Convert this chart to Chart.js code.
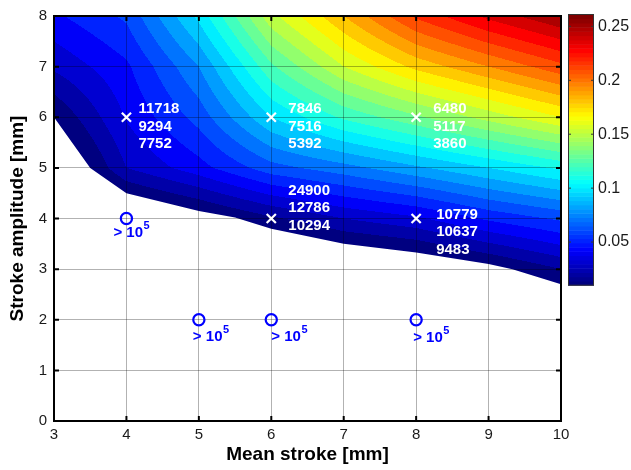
<!DOCTYPE html>
<html lang="en">
<head>
<meta charset="UTF-8">
<title>Stroke amplitude vs mean stroke</title>
<style>
  body { margin: 0; background: #fff; }
  canvas { display: block; }
</style>
</head>
<body>
<canvas id="chart" width="631" height="470"></canvas>
<script src="https://cdn.jsdelivr.net/npm/chart.js@4.4.7/dist/chart.umd.min.js"></script>
<script>
// contour field on a 1 mm grid
const gridX = [3, 4, 5, 6, 7, 8, 9, 10];
const gridY = [2, 3, 4, 5, 6, 7, 8];
const fieldY2 = [-0.12, -0.10, -0.08, -0.06, -0.05, -0.04, -0.03, -0.02];
const fieldY3 = [-0.08, -0.06, -0.04, -0.02, -0.01, -0.005, 0.006, 0.02];
const fieldY4 = [-0.03, -0.008, 0.004, 0.018, 0.030, 0.038, 0.052, 0.062];
const fieldY5 = [-0.01, 0.030, 0.046, 0.066, 0.076, 0.088, 0.100, 0.112];
const fieldY6 = [0.010, 0.041, 0.064, 0.100, 0.122, 0.138, 0.154, 0.170];
const fieldY7 = [0.032, 0.048, 0.080, 0.128, 0.160, 0.183, 0.200, 0.217];
const fieldY8 = [0.048, 0.062, 0.103, 0.157, 0.190, 0.222, 0.243, 0.260];
const field = [fieldY2, fieldY3, fieldY4, fieldY5, fieldY6, fieldY7, fieldY8];

// lower edge of the filled region (white below)
const boundaryX = [3, 3.5, 4, 5, 5.5, 6, 7, 8, 9, 9.33, 10];
const boundaryY = [6, 5, 4.5, 4.15, 4.02, 3.8, 3.5, 3.33, 3.1, 3.0, 2.7];

const contourLevels = [0.01, 0.02, 0.03, 0.04, 0.05, 0.06, 0.07, 0.08, 0.09, 0.10, 0.11, 0.12, 0.13,
  0.14, 0.15, 0.16, 0.17, 0.18, 0.19, 0.20, 0.21, 0.22, 0.23, 0.24, 0.25, 0.26];
const cbMin = 0.01;
const cbMax = 0.261;
const cbTicks = [0.05, 0.1, 0.15, 0.2, 0.25];

// tested points (x) with their three results
const testX = [4, 6, 8, 6, 8];
const testY = [6, 6, 6, 4, 4];
const testResults = [
  ['11718', '9294', '7752'],
  ['7846', '7516', '5392'],
  ['6480', '5117', '3860'],
  ['24900', '12786', '10294'],
  ['10779', '10637', '9483']
];
// run-outs (o), all > 10^5
const runoutX = [4, 5, 6, 8];
const runoutY = [4, 2, 2, 2];

// label placement in pixels, relative to the marker
const testLabelOffset = [[12, -8], [17, -8], [17, -8], [17, -28], [20, -4]];
const runoutLabelOffset = [[-13, 14], [-6, 17], [0, 17], [-3, 18]];

function jet(t) {
  t = Math.min(1, Math.max(0, t));
  const f = c => Math.round(255 * Math.min(1, Math.max(0, 1.5 - Math.abs(4 * t - c))));
  return [f(3), f(2), f(1)];
}

function locate(arr, v) {
  let i = 0;
  while (i < arr.length - 2 && v > arr[i + 1]) i++;
  return [i, (v - arr[i]) / (arr[i + 1] - arr[i])];
}

function sampleField(vx, vy) {
  const [i, fx] = locate(gridX, vx);
  const [j, fy] = locate(gridY, vy);
  const a = field[j][i], b = field[j][i + 1], c = field[j + 1][i], d = field[j + 1][i + 1];
  return (a * (1 - fx) + b * fx) * (1 - fy) + (c * (1 - fx) + d * fx) * fy;
}

const contourPlugin = {
  id: 'contourFill',
  beforeDraw(chart) {
    const { ctx, chartArea: a, scales: { x, y } } = chart;
    const left = Math.floor(a.left), top = Math.floor(a.top);
    const w = Math.ceil(a.right) - left, h = Math.ceil(a.bottom) - top;
    const off = document.createElement('canvas');
    off.width = w;
    off.height = h;
    const octx = off.getContext('2d');
    const img = octx.createImageData(w, h);
    const xs = [], ys = [];
    for (let i = 0; i < w; i++) xs.push(x.getValueForPixel(left + i + 0.5));
    for (let j = 0; j < h; j++) ys.push(y.getValueForPixel(top + j + 0.5));
    for (let j = 0; j < h; j++) {
      for (let i = 0; i < w; i++) {
        const v = sampleField(xs[i], ys[j]);
        let k = 0;
        while (k < contourLevels.length - 2 && v >= contourLevels[k + 1]) k++;
        const c = jet((contourLevels[k] - cbMin) / (cbMax - cbMin));
        const p = (j * w + i) * 4;
        img.data[p] = c[0];
        img.data[p + 1] = c[1];
        img.data[p + 2] = c[2];
        img.data[p + 3] = 255;
      }
    }
    octx.putImageData(img, 0, 0);

    ctx.save();
    ctx.beginPath();
    boundaryX.forEach((bx, n) => {
      const px = x.getPixelForValue(bx), py = y.getPixelForValue(boundaryY[n]);
      if (n === 0) ctx.moveTo(px, py); else ctx.lineTo(px, py);
    });
    ctx.lineTo(x.getPixelForValue(x.max), y.getPixelForValue(y.max));
    ctx.lineTo(x.getPixelForValue(x.min), y.getPixelForValue(y.max));
    ctx.closePath();
    ctx.clip();
    ctx.drawImage(off, left, top);
    ctx.restore();
  },
  afterDraw(chart) {
    const { ctx, chartArea: a, scales: { x, y } } = chart;
    ctx.save();
    // axes box with inward ticks
    ctx.strokeStyle = '#000';
    ctx.lineWidth = 2;
    ctx.strokeRect(a.left, a.top, a.right - a.left, a.bottom - a.top);
    ctx.beginPath();
    x.ticks.forEach(t => {
      const px = x.getPixelForValue(t.value);
      ctx.moveTo(px, a.bottom); ctx.lineTo(px, a.bottom - 5);
      ctx.moveTo(px, a.top); ctx.lineTo(px, a.top + 5);
    });
    y.ticks.forEach(t => {
      const py = y.getPixelForValue(t.value);
      ctx.moveTo(a.left, py); ctx.lineTo(a.left + 5, py);
      ctx.moveTo(a.right, py); ctx.lineTo(a.right - 5, py);
    });
    ctx.stroke();

    // colour bar
    const cbLeft = a.right + 7, cbW = 26;
    const cbTop = a.top - 1.5, cbBottom = cbTop + 270.7;
    const steps = 64;
    for (let s = 0; s < steps; s++) {
      const c = jet(s / (steps - 1));
      const y0 = cbBottom - (s + 1) * (cbBottom - cbTop) / steps;
      ctx.fillStyle = `rgb(${c[0]},${c[1]},${c[2]})`;
      ctx.fillRect(cbLeft, y0, cbW, (cbBottom - cbTop) / steps + 0.5);
    }
    ctx.lineWidth = 1;
    ctx.strokeStyle = '#333';
    ctx.strokeRect(cbLeft + 0.5, cbTop, cbW - 1, cbBottom - cbTop);
    ctx.fillStyle = '#1a1a1a';
    ctx.font = '16px "Liberation Sans", Arial, sans-serif';
    ctx.textAlign = 'left';
    ctx.textBaseline = 'middle';
    ctx.beginPath();
    cbTicks.forEach(v => {
      const py = cbBottom - (v - cbMin) / (cbMax - cbMin) * (cbBottom - cbTop);
      ctx.moveTo(cbLeft, py); ctx.lineTo(cbLeft + 3, py);
      ctx.moveTo(cbLeft + cbW, py); ctx.lineTo(cbLeft + cbW - 3, py);
      ctx.fillText(String(v), cbLeft + cbW + 4, py);
    });
    ctx.stroke();
    ctx.restore();
  }
};

const labelPlugin = {
  id: 'pointLabels',
  afterDatasetsDraw(chart) {
    const ctx = chart.ctx;
    ctx.save();
    ctx.textAlign = 'left';
    ctx.textBaseline = 'middle';
    ctx.font = 'bold 15px "Liberation Sans", Arial, sans-serif';
    ctx.fillStyle = '#fff';
    chart.getDatasetMeta(0).data.forEach((pt, n) => {
      const [dx, dy] = testLabelOffset[n];
      testResults[n].forEach((txt, line) => {
        ctx.fillText(txt, pt.x + dx, pt.y + dy + line * 17.5);
      });
    });
    ctx.fillStyle = '#0000ff';
    chart.getDatasetMeta(1).data.forEach((pt, n) => {
      const [dx, dy] = runoutLabelOffset[n];
      ctx.font = 'bold 15px "Liberation Sans", Arial, sans-serif';
      const base = '> 10';
      ctx.fillText(base, pt.x + dx, pt.y + dy);
      const wBase = ctx.measureText(base).width;
      ctx.font = 'bold 11px "Liberation Sans", Arial, sans-serif';
      ctx.fillText('5', pt.x + dx + wBase + 0.5, pt.y + dy - 7);
    });
    ctx.restore();
  }
};

const tickFont = { family: '"Liberation Sans", Arial, sans-serif', size: 15 };
const titleFont = { family: '"Liberation Sans", Arial, sans-serif', size: 19, weight: 'bold' };
const gridColor = 'rgba(0,0,0,0.3)';

new Chart(document.getElementById('chart'), {
  type: 'scatter',
  data: {
    datasets: [
      {
        label: 'tested',
        data: testX.map((v, n) => ({ x: v, y: testY[n] })),
        pointStyle: 'crossRot',
        radius: 6.5,
        borderColor: '#fff',
        borderWidth: 2.2
      },
      {
        label: 'run-out',
        data: runoutX.map((v, n) => ({ x: v, y: runoutY[n] })),
        pointStyle: 'circle',
        radius: 5.6,
        borderColor: '#0000ff',
        backgroundColor: 'rgba(0,0,0,0)',
        borderWidth: 2.2
      }
    ]
  },
  options: {
    responsive: false,
    animation: false,
    events: [],
    layout: { padding: { top: 15, right: 70, left: 0, bottom: 0 } },
    plugins: { legend: { display: false }, tooltip: { enabled: false } },
    scales: {
      x: {
        type: 'linear',
        min: 3,
        max: 10,
        ticks: { stepSize: 1, color: '#1a1a1a', font: tickFont, padding: 5 },
        grid: { color: gridColor, drawTicks: false },
        border: { display: false },
        title: { display: true, text: 'Mean stroke [mm]', color: '#000', font: titleFont, padding: { top: 0, bottom: 4 } },
        afterFit: s => { s.height = 49; }
      },
      y: {
        type: 'linear',
        min: 0,
        max: 8,
        ticks: { stepSize: 1, color: '#1a1a1a', font: tickFont, padding: 7 },
        grid: { color: gridColor, drawTicks: false },
        border: { display: false },
        title: { display: true, text: 'Stroke amplitude [mm]', color: '#000', font: titleFont, padding: { top: 6, bottom: 0 } },
        afterFit: s => { s.width = 54; }
      }
    }
  },
  plugins: [contourPlugin, labelPlugin]
});
</script>
</body>
</html>
